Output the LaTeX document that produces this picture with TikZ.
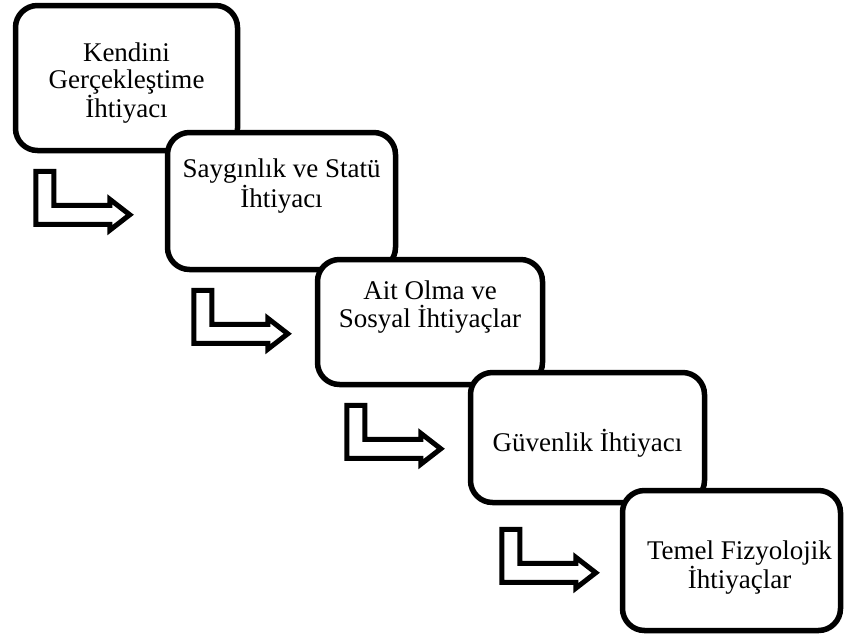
\documentclass[tikz,border=0pt]{standalone}
\usepackage{fontspec}
\setmainfont{Liberation Serif}

\begin{document}
\begin{tikzpicture}[x=1pt,y=-1pt,
		kutu/.style={draw=black, line width=5.5pt, rounded corners=22pt, fill=white, inner sep=0pt},
		yazi/.style={align=center, inner sep=0pt, font=\fontsize{27}{27.5}\selectfont},
		ok/.style={draw=black, line width=5pt, fill=white},
		donus/.pic={\draw[ok] (0,0) -- (18,0) -- (18,34) -- (74,34) -- (74,28) -- (94,43.5) -- (74,59) -- (74,53) -- (0,53) -- cycle;}]
		\useasboundingbox (0,0) rectangle (846,641);
		\node[kutu, minimum width=222pt, minimum height=145pt] (k1) at (126.5,78) {};
		\node[yazi] (y1) at ([yshift=-5pt]k1.center) {Kendini\\Gerçekleştime\\İhtiyacı};
		\pic at ([shift={(23,18)}]k1.south west) {donus};
		\node[kutu, minimum width=228pt, minimum height=137pt] (k2) at (281.5,201) {};
		\node[yazi] (y2) at ([yshift=15pt]k2.center) {Saygınlık ve Statü\\İhtiyacı};
		\pic at ([shift={(29,18)}]k2.south west) {donus};
		\node[kutu, minimum width=225pt, minimum height=125pt] (k3) at (430,322) {};
		\node[yazi] (y3) at ([yshift=15pt]k3.center) {Ait Olma ve\\Sosyal İhtiyaçlar};
		\pic at ([shift={(32,18)}]k3.south west) {donus};
		\node[kutu, minimum width=234pt, minimum height=130pt] (k4) at (587.5,437.5) {};
		\node[yazi] (y4) at ([yshift=-6pt]k4.center) {Güvenlik İhtiyacı};
		\pic at ([shift={(34,24)}]k4.south west) {donus};
		\node[kutu, minimum width=218pt, minimum height=140pt] (k5) at (731.5,560.5) {};
		\node[yazi] (y5) at ([shift={(8pt,-7pt)}]k5.center) {Temel Fizyolojik\\İhtiyaçlar};
	\end{tikzpicture}
\end{document}
